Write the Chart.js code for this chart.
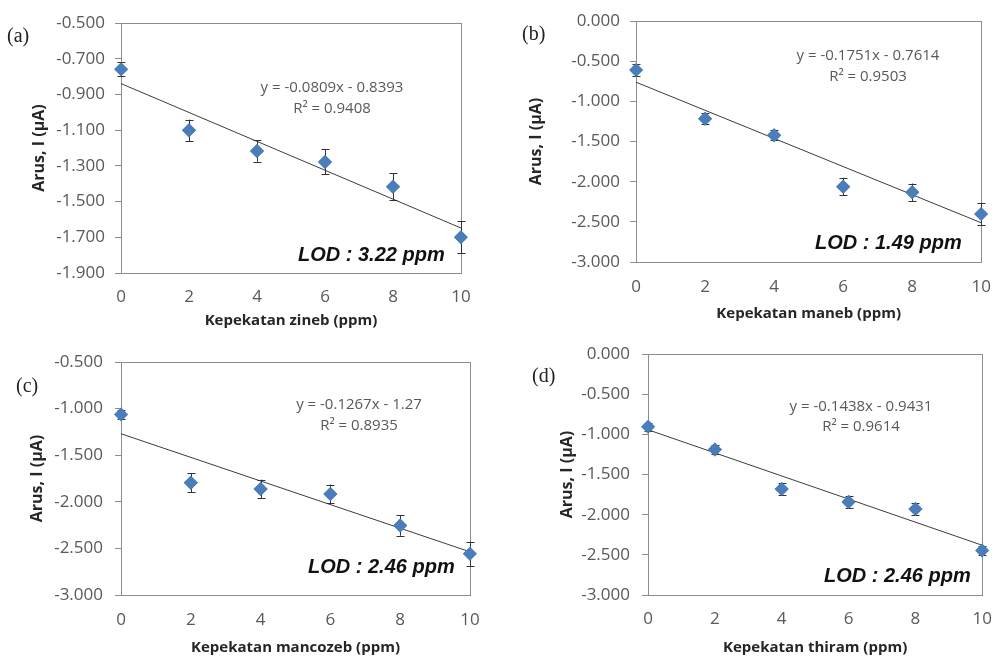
<!DOCTYPE html>
<html><head><meta charset="utf-8">
<script src="https://cdn.jsdelivr.net/npm/chart.js@4.4.0/dist/chart.umd.min.js"></script>
<style>
body{margin:0;width:1006px;height:657px;background:#fff;position:relative;overflow:hidden;font-family:'Open Sans',sans-serif}
canvas{position:absolute}
.lbl{position:absolute;font-family:'Liberation Serif',serif;font-size:20px;color:#222;line-height:1;transform:translateY(-50%)}
.eq{position:absolute;font-size:15px;color:#595959;text-align:center;transform:translate(-50%,-50%);white-space:nowrap;line-height:1}
.lod{position:absolute;font-family:'Liberation Sans',Arial,sans-serif;font-weight:bold;font-style:italic;font-size:20px;color:#111;transform:translateY(-50%);white-space:nowrap;line-height:1}
</style>
</head><body>
<canvas id="ca" width="500" height="330" style="left:0;top:0"></canvas>
<canvas id="cb" width="506" height="330" style="left:500px;top:0"></canvas>
<canvas id="cc" width="500" height="327" style="left:0;top:330px"></canvas>
<canvas id="cd" width="506" height="327" style="left:500px;top:330px"></canvas>

<div class="lbl" style="left:7px;top:35px">(a)</div>
<div class="lbl" style="left:522px;top:33px">(b)</div>
<div class="lbl" style="left:16px;top:385px">(c)</div>
<div class="lbl" style="left:532px;top:375px">(d)</div>

<div class="eq" style="left:332px;top:86px">y = -0.0809x - 0.8393</div>
<div class="eq" style="left:332px;top:107px">R² = 0.9408</div>
<div class="eq" style="left:868px;top:54px">y = -0.1751x - 0.7614</div>
<div class="eq" style="left:868px;top:75px">R² = 0.9503</div>
<div class="eq" style="left:359px;top:403px">y = -0.1267x - 1.27</div>
<div class="eq" style="left:359px;top:424px">R² = 0.8935</div>
<div class="eq" style="left:861px;top:405px">y = -0.1438x - 0.9431</div>
<div class="eq" style="left:861px;top:425px">R² = 0.9614</div>

<div class="lod" style="left:298px;top:254px">LOD : 3.22 ppm</div>
<div class="lod" style="left:815px;top:242px">LOD : 1.49 ppm</div>
<div class="lod" style="left:308px;top:566px">LOD : 2.46 ppm</div>
<div class="lod" style="left:824px;top:575px">LOD : 2.46 ppm</div>

<script>
const xValues = [0, 2, 4, 6, 8, 10];
const xTicks = [0, 2, 4, 6, 8, 10];

const zinebY = [-0.759, -1.101, -1.217, -1.278, -1.417, -1.700];
const zinebErr = [0.04, 0.06, 0.06, 0.07, 0.075, 0.09];
const manebY = [-0.610, -1.216, -1.423, -2.062, -2.133, -2.402];
const manebErr = [0.07, 0.07, 0.06, 0.11, 0.11, 0.14];
const mancozebY = [-1.063, -1.795, -1.862, -1.916, -2.254, -2.558];
const mancozebErr = [0.05, 0.10, 0.10, 0.10, 0.11, 0.13];
const thiramY = [-0.906, -1.190, -1.680, -1.843, -1.930, -2.445];
const thiramErr = [0.05, 0.06, 0.07, 0.08, 0.08, 0.06];

const trendX = [0, 10];
const zinebTrend = [-0.8393, -1.6483];
const manebTrend = [-0.7614, -2.5124];
const mancozebTrend = [-1.27, -2.537];
const thiramTrend = [-0.9431, -2.3811];

const yTicksA = [-1.9, -1.7, -1.5, -1.3, -1.1, -0.9, -0.7, -0.5];
const yTicksB = [-3, -2.5, -2, -1.5, -1, -0.5, 0];
const yTicksC = [-3, -2.5, -2, -1.5, -1, -0.5];
const yTicksD = [-3, -2.5, -2, -1.5, -1, -0.5, 0];

const yTitle = 'Arus, I (μA)';

const framePlugin = {
  id: 'frame',
  beforeDatasetsDraw(chart) {
    const a = chart.chartArea, ctx = chart.ctx;
    ctx.save();
    ctx.strokeStyle = '#8c8c8c';
    ctx.lineWidth = 1;
    ctx.strokeRect(Math.round(a.left) + 0.5, Math.round(a.top) + 0.5, Math.round(a.right - a.left), Math.round(a.bottom - a.top));
    ctx.restore();
  }
};

const errorPlugin = {
  id: 'errbars',
  afterDatasetsDraw(chart) {
    const ctx = chart.ctx, xs = chart.scales.x, ys = chart.scales.y;
    chart.data.datasets.forEach(ds => {
      if (!ds.errors) return;
      ctx.save();
      ctx.strokeStyle = '#333';
      ctx.lineWidth = 1;
      ds.data.forEach((p, i) => {
        const e = ds.errors[i];
        const px = Math.round(xs.getPixelForValue(p.x)) + 0.5;
        const y1 = ys.getPixelForValue(p.y + e);
        const y2 = ys.getPixelForValue(p.y - e);
        ctx.beginPath();
        ctx.moveTo(px, y1); ctx.lineTo(px, y2);
        ctx.moveTo(px - 4, Math.round(y1) + 0.5); ctx.lineTo(px + 4, Math.round(y1) + 0.5);
        ctx.moveTo(px - 4, Math.round(y2) + 0.5); ctx.lineTo(px + 4, Math.round(y2) + 0.5);
        ctx.stroke();
      });
      ctx.restore();
      const meta = chart.getDatasetMeta(chart.data.datasets.indexOf(ds));
      meta.controller.draw();
    });
  }
};

function makeChart(id, cfg) {
  new Chart(document.getElementById(id), {
    type: 'scatter',
    data: {
      datasets: [
        { type: 'line', data: trendX.map((x, i) => ({ x: x, y: cfg.trend[i] })), borderColor: '#3c3c3c', borderWidth: 1, pointRadius: 0, fill: false, order: 2 },
        { data: xValues.map((x, i) => ({ x: x, y: cfg.y[i] })), errors: cfg.err, pointStyle: 'rectRot', pointRadius: 7, backgroundColor: '#4a7ebb', borderColor: '#4a7ebb', borderWidth: 0, order: 1 }
      ]
    },
    options: {
      responsive: false, animation: false, devicePixelRatio: 1,
      layout: { padding: { left: 0, top: cfg.pt, right: cfg.pr, bottom: 0 } },
      plugins: { legend: { display: false }, tooltip: { enabled: false } },
      scales: {
        x: {
          type: 'linear', min: 0, max: 10,
          afterBuildTicks: s => { s.ticks = xTicks.map(v => ({ value: v })); },
          afterFit: s => { s.height = cfg.xh; },
          grid: { display: true, drawOnChartArea: false, drawTicks: false },
          border: { color: '#8c8c8c', width: 1 },
          ticks: { padding: cfg.xpad, color: '#595959', font: { family: 'Open Sans', size: 17 }, maxRotation: 0 },
          title: { display: true, text: cfg.xTitle, color: '#262626', font: { family: 'Open Sans', size: 15, weight: 'bold' }, padding: { top: 0, bottom: cfg.xtb } }
        },
        y: {
          type: 'linear', min: cfg.yTicks[0], max: cfg.yTicks[cfg.yTicks.length - 1],
          afterBuildTicks: s => { s.ticks = cfg.yTicks.map(v => ({ value: v })); },
          afterFit: s => { s.width = cfg.yw; },
          grid: { display: true, drawOnChartArea: false, drawTicks: true, tickLength: 6, color: '#8c8c8c' },
          border: { color: '#8c8c8c', width: 1 },
          ticks: { padding: cfg.ypad, color: '#595959', font: { family: 'Open Sans', size: 17 }, callback: v => Number(v).toFixed(3) },
          title: { display: true, text: yTitle, color: '#262626', font: { family: 'Open Sans', size: 16, weight: 'bold' }, padding: { top: cfg.ytp, bottom: 0 } }
        }
      }
    },
    plugins: [framePlugin, errorPlugin]
  });
}

makeChart('ca', { y: zinebY, err: zinebErr, trend: zinebTrend, yTicks: yTicksA, xTitle: 'Kepekatan zineb (ppm)',
  pt: 23, pr: 39, yw: 121, xh: 57, xpad: 14, xtb: 0, ytp: 30, ypad: 10 });
makeChart('cb', { y: manebY, err: manebErr, trend: manebTrend, yTicks: yTicksB, xTitle: 'Kepekatan maneb (ppm)',
  pt: 21, pr: 18, yw: 136, xh: 68, xpad: 15, xtb: 7, ytp: 27, ypad: 10 });
makeChart('cc', { y: mancozebY, err: mancozebErr, trend: mancozebTrend, yTicks: yTicksC, xTitle: 'Kepekatan mancozeb (ppm)',
  pt: 32, pr: 30, yw: 121, xh: 62, xpad: 15, xtb: 0, ytp: 28, ypad: 12 });
makeChart('cd', { y: thiramY, err: thiramErr, trend: thiramTrend, yTicks: yTicksD, xTitle: 'Kepekatan thiram (ppm)',
  pt: 24, pr: 10, yw: 148, xh: 62, xpad: 14, xtb: 0, ytp: 58, ypad: 12 });
</script>
</body></html>
